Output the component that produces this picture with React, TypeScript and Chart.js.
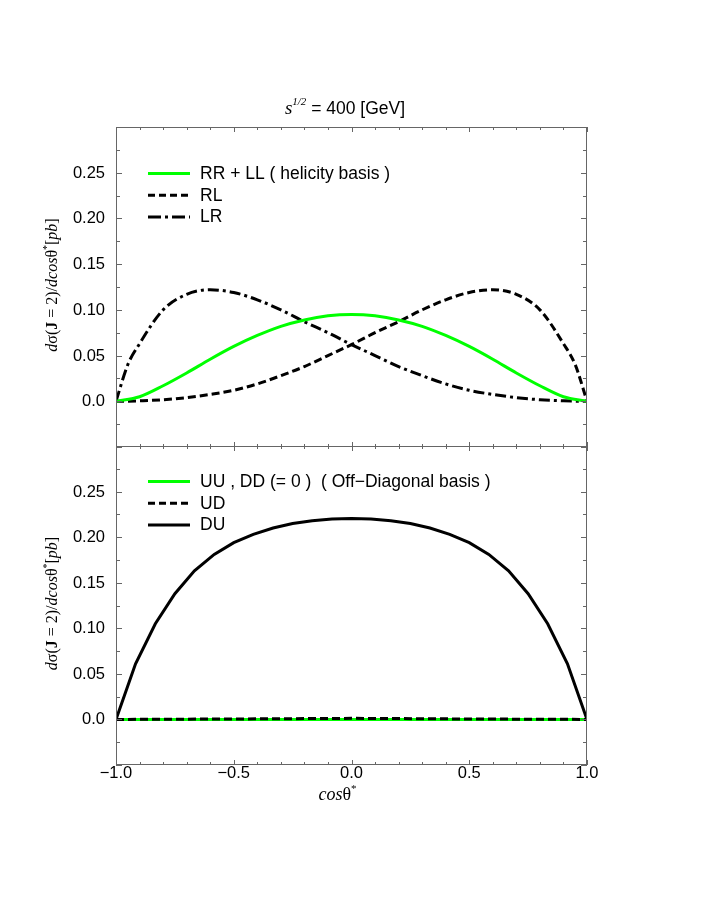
import React, { useEffect, useRef } from "react";
import { Chart, registerables } from "chart.js";

Chart.register(...registerables);

// ---- data (top panel: helicity basis) ----
const xHel = [-1, -0.95, -0.9, -0.8, -0.7, -0.6, -0.5, -0.4, -0.3, -0.2, -0.1, 0, 0.1, 0.2, 0.3, 0.4, 0.5, 0.6, 0.7, 0.8, 0.9, 0.95, 1];
const lrValues = [0, 0.040, 0.063, 0.100, 0.117, 0.122, 0.119, 0.111, 0.100, 0.087, 0.075, 0.062, 0.050, 0.038, 0.028, 0.019, 0.012, 0.0075, 0.004, 0.0017, 0.0005, 0.0001, 0];
const rlValues = [0, 0.0001, 0.0005, 0.0017, 0.004, 0.0075, 0.012, 0.019, 0.028, 0.038, 0.050, 0.062, 0.075, 0.087, 0.100, 0.111, 0.119, 0.122, 0.117, 0.100, 0.063, 0.040, 0];
const xRRLL = [-1, -0.9, -0.8, -0.7, -0.6, -0.5, -0.4, -0.3, -0.2, -0.1, 0, 0.1, 0.2, 0.3, 0.4, 0.5, 0.6, 0.7, 0.8, 0.9, 1];
const rrllValues = [0, 0.005, 0.017, 0.031, 0.046, 0.060, 0.072, 0.082, 0.089, 0.0935, 0.095, 0.0935, 0.089, 0.082, 0.072, 0.060, 0.046, 0.031, 0.017, 0.005, 0];

// ---- data (bottom panel: off-diagonal basis) ----
const xDU = [-1, -0.917, -0.833, -0.75, -0.667, -0.583, -0.5, -0.417, -0.333, -0.25, -0.167, -0.083, 0, 0.083, 0.167, 0.25, 0.333, 0.417, 0.5, 0.583, 0.667, 0.75, 0.833, 0.917, 1];
const duValues = [0, 0.061, 0.105, 0.138, 0.163, 0.181, 0.194, 0.203, 0.210, 0.215, 0.218, 0.2198, 0.2205, 0.2198, 0.218, 0.215, 0.210, 0.203, 0.194, 0.181, 0.163, 0.138, 0.105, 0.061, 0];
const xOff = [-1, -0.5, 0, 0.5, 1];
const udValues = [0, 0.0005, 0.0012, 0.0005, 0];
const uuValues = [0, 0, 0, 0, 0];

// ---- axis ticks ----
const xTickLabels = ["\u22121.0", "\u22120.5", "0.0", "0.5", "1.0"];
const xTickValues = [-1, -0.5, 0, 0.5, 1];
const yTickLabels = ["0.0", "0.05", "0.10", "0.15", "0.20", "0.25"];
const yTickValues = [0, 0.05, 0.1, 0.15, 0.2, 0.25];

const GREEN = "#00ff00";
const BLACK = "#000000";
const FRAME = "#666666";
const SANS = '"Liberation Sans", Arial, sans-serif';
const SERIF = '"Liberation Serif", "Times New Roman", serif';

const pts = (xs: number[], ys: number[]) => xs.map((x, i) => ({ x, y: ys[i] }));

type Seg = { t: string; font: string; dy?: number };

function drawRich(ctx: CanvasRenderingContext2D, segs: Seg[], x: number, y: number, align: "left" | "center") {
  let total = 0;
  for (const s of segs) {
    ctx.font = s.font;
    total += ctx.measureText(s.t).width;
  }
  let cx = align === "center" ? x - total / 2 : x;
  ctx.textAlign = "left";
  for (const s of segs) {
    ctx.font = s.font;
    ctx.fillText(s.t, cx, y + (s.dy || 0));
    cx += ctx.measureText(s.t).width;
  }
}

type LegendItem = { label: string; color: string; dash: number[] };

function makePlugin(cfg: { legend: LegendItem[]; legendY: number; showX: boolean; title: boolean }) {
  return {
    id: "frame",
    afterDraw(chart: any) {
      const ctx: CanvasRenderingContext2D = chart.ctx;
      const { left, right, top, bottom } = chart.chartArea;
      const xs = chart.scales.x;
      const ys = chart.scales.y;
      ctx.save();
      // frame
      ctx.strokeStyle = FRAME;
      ctx.lineWidth = 1;
      ctx.setLineDash([]);
      ctx.strokeRect(left + 0.5, top + 0.5, right - left - 1, bottom - top - 1);
      // x ticks (inward, top and bottom)
      ctx.beginPath();
      for (let k = -10; k <= 10; k++) {
        const v = k / 10;
        const px = Math.round(xs.getPixelForValue(v)) + 0.5;
        const len = k % 5 === 0 ? 5 : 3;
        ctx.moveTo(px, bottom);
        ctx.lineTo(px, bottom - len);
        ctx.moveTo(px, top);
        ctx.lineTo(px, top + len);
      }
      // y ticks (inward, left and right)
      for (let k = -2; k <= 12; k++) {
        const v = k * 0.025;
        const py = Math.round(ys.getPixelForValue(v)) + 0.5;
        const len = k % 2 === 0 ? 6 : 4;
        ctx.moveTo(left, py);
        ctx.lineTo(left + len, py);
        ctx.moveTo(right, py);
        ctx.lineTo(right - len, py);
      }
      ctx.stroke();
      // y tick labels
      ctx.fillStyle = "#000";
      ctx.font = `16.5px ${SANS}`;
      ctx.textAlign = "right";
      ctx.textBaseline = "middle";
      yTickValues.forEach((v, i) => {
        ctx.fillText(yTickLabels[i], left - 11, ys.getPixelForValue(v) + 0.5);
      });
      // x tick labels
      if (cfg.showX) {
        ctx.textAlign = "center";
        ctx.textBaseline = "middle";
        ctx.font = `16.5px ${SANS}`;
        xTickValues.forEach((v, i) => {
          ctx.fillText(xTickLabels[i], xs.getPixelForValue(v), bottom + 8 + 0.5);
        });
        ctx.textBaseline = "alphabetic";
        drawRich(
          ctx,
          [
            { t: "cos", font: `italic 18px ${SERIF}` },
            { t: "\u03b8", font: `18px ${SERIF}` },
            { t: "*", font: `11px ${SERIF}`, dy: -8 },
          ],
          xs.getPixelForValue(0) - 14,
          bottom + 35,
          "center"
        );
      }
      // title
      if (cfg.title) {
        ctx.textBaseline = "alphabetic";
        drawRich(
          ctx,
          [
            { t: "s", font: `italic 19px ${SERIF}` },
            { t: "1/2", font: `italic 11px ${SERIF}`, dy: -9 },
            { t: " = 400 [GeV]", font: `17.5px ${SANS}` },
          ],
          345,
          114,
          "center"
        );
      }
      // y axis title (rotated)
      ctx.save();
      ctx.translate(57, (top + bottom) / 2 - 2);
      ctx.rotate(-Math.PI / 2);
      ctx.textBaseline = "alphabetic";
      drawRich(
        ctx,
        [
          { t: "d", font: `italic 16px ${SERIF}` },
          { t: "\u03c3(", font: `16px ${SERIF}` },
          { t: "J", font: `bold 16px ${SERIF}` },
          { t: " = 2)/", font: `16px ${SERIF}` },
          { t: "dcos", font: `italic 16px ${SERIF}` },
          { t: "\u03b8", font: `16px ${SERIF}` },
          { t: "*", font: `10px ${SERIF}`, dy: -7 },
          { t: "[", font: `16px ${SERIF}` },
          { t: "pb", font: `italic 16px ${SERIF}` },
          { t: "]", font: `16px ${SERIF}` },
        ],
        0,
        0,
        "center"
      );
      ctx.restore();
      // legend
      ctx.textBaseline = "middle";
      ctx.textAlign = "left";
      cfg.legend.forEach((it, i) => {
        const y = cfg.legendY + i * 21.7;
        ctx.strokeStyle = it.color;
        ctx.lineWidth = 3;
        ctx.setLineDash(it.dash);
        ctx.beginPath();
        ctx.moveTo(148, y);
        ctx.lineTo(190, y);
        ctx.stroke();
        ctx.setLineDash([]);
        ctx.fillStyle = "#000";
        ctx.font = `17.5px ${SANS}`;
        ctx.fillText(it.label, 200, y + 0.5);
      });
      ctx.restore();
    },
  };
}

function baseOptions(padding: any) {
  return {
    responsive: false,
    animation: false as const,
    layout: { padding },
    plugins: { legend: { display: false }, tooltip: { enabled: false }, title: { display: false } },
    elements: { point: { radius: 0 } },
    scales: {
      x: { type: "linear" as const, min: -1, max: 1, display: false },
      y: { type: "linear" as const, min: -0.05, max: 0.3, display: false },
    },
  };
}

const DASH = [8, 4];
const DASHDOT = [11, 4, 3, 4];

export default function App() {
  const topRef = useRef<HTMLCanvasElement>(null);
  const botRef = useRef<HTMLCanvasElement>(null);

  useEffect(() => {
    const top = new Chart(topRef.current as HTMLCanvasElement, {
      type: "line",
      data: {
        datasets: [
          { label: "RR + LL ( helicity basis )", data: pts(xRRLL, rrllValues), borderColor: GREEN, borderWidth: 3, cubicInterpolationMode: "monotone", order: 0 },
          { label: "RL", data: pts(xHel, rlValues), borderColor: BLACK, borderWidth: 3, borderDash: DASH, cubicInterpolationMode: "monotone", order: 1 },
          { label: "LR", data: pts(xHel, lrValues), borderColor: BLACK, borderWidth: 3, borderDash: DASHDOT, cubicInterpolationMode: "monotone", order: 2 },
        ],
      } as any,
      options: baseOptions({ top: 127, left: 116, right: 121, bottom: 1 }) as any,
      plugins: [
        makePlugin({
          legend: [
            { label: "RR + LL ( helicity basis )", color: GREEN, dash: [] },
            { label: "RL", color: BLACK, dash: [7, 4] },
            { label: "LR", color: BLACK, dash: [13, 4, 3, 4] },
          ],
          legendY: 173.5,
          showX: false,
          title: true,
        }),
      ],
    });
    const bot = new Chart(botRef.current as HTMLCanvasElement, {
      type: "line",
      data: {
        datasets: [
          { label: "UD", data: pts(xOff, udValues), borderColor: BLACK, borderWidth: 3, borderDash: DASH, order: 0 },
          { label: "UU , DD (= 0 )", data: pts(xOff, uuValues), borderColor: GREEN, borderWidth: 3, order: 1 },
          { label: "DU", data: pts(xDU, duValues), borderColor: BLACK, borderWidth: 3, tension: 0, order: 2 },
        ],
      } as any,
      options: baseOptions({ top: 0, left: 116, right: 121, bottom: 152 }) as any,
      plugins: [
        makePlugin({
          legend: [
            { label: "UU , DD (= 0 )  ( Off\u2212Diagonal basis )", color: GREEN, dash: [] },
            { label: "UD", color: BLACK, dash: [7, 4] },
            { label: "DU", color: BLACK, dash: [] },
          ],
          legendY: 35.5,
          showX: true,
          title: false,
        }),
      ],
    });
    return () => {
      top.destroy();
      bot.destroy();
    };
  }, []);

  return (
    <div style={{ position: "absolute", left: 0, top: 0, width: 708, height: 917, background: "#fff" }}>
      <canvas ref={topRef} width={708} height={448} style={{ position: "absolute", left: 0, top: 0, width: 708, height: 448 }} />
      <canvas ref={botRef} width={708} height={471} style={{ position: "absolute", left: 0, top: 446, width: 708, height: 471 }} />
    </div>
  );
}
